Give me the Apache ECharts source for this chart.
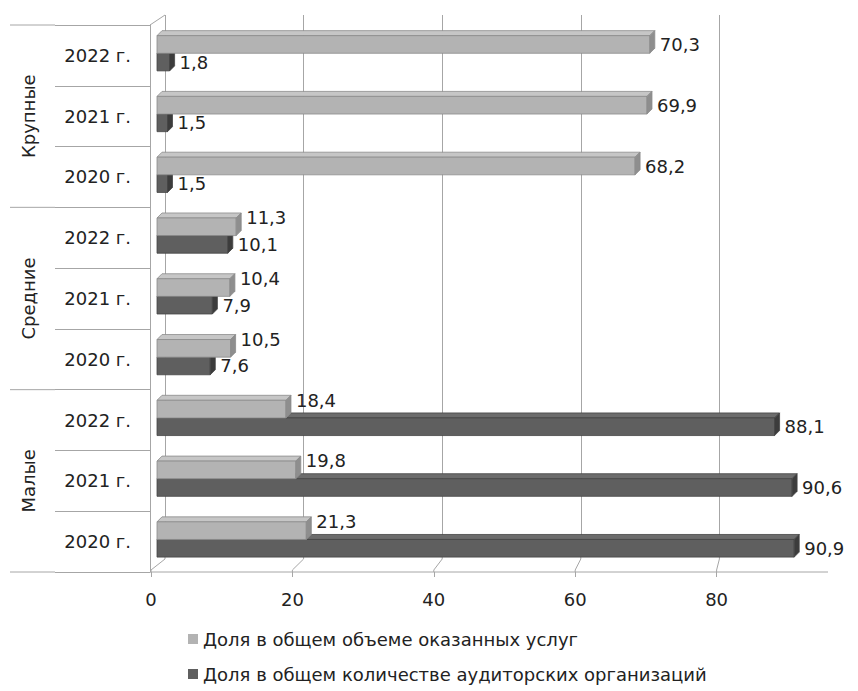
<!DOCTYPE html>
<html>
<head>
<meta charset="utf-8">
<script src="https://cdn.jsdelivr.net/npm/echarts@6/dist/echarts.min.js"></script>
<style>
  html, body { margin: 0; padding: 0; background: #fff; }
  #chart { width: 858px; height: 691px; }
</style>
</head>
<body>
<div id="chart"></div>
<script>
// Firm size groups and reporting years (top to bottom)
const groups = ['Крупные', 'Средние', 'Малые'];
const years = ['2022 г.', '2021 г.', '2020 г.'];

// Shares, %, in row order: Крупные 2022..2020, Средние 2022..2020, Малые 2022..2020
const serviceShare = [70.3, 69.9, 68.2, 11.3, 10.4, 10.5, 18.4, 19.8, 21.3];
const firmShare = [1.8, 1.5, 1.5, 10.1, 7.9, 7.6, 88.1, 90.6, 90.9];

const seriesNames = [
  'Доля в общем объеме оказанных услуг',
  'Доля в общем количестве аудиторских организаций'
];

// Value axis range
const axisMin = 0;
const axisMax = 100;
const axisStep = 20;

const rows = groups.flatMap(() => years);

const FONT = '"DejaVu Sans", Verdana, sans-serif';
const TEXT = '#222';
const LINE = '#a6a6a6';

const palettes = [
  { front: '#b3b3b3', top: '#c6c6c6', side: '#8e8e8e', edge: '#8c8c8c' },
  { front: '#5f5f5f', top: '#6c6c6c', side: '#3c3c3c', edge: '#454545' }
];

const fmt = v => v.toFixed(1).replace('.', ',');

// Box-like bar: front face, top face and right side face with a value label
function makeRenderer(k) {
  const pal = palettes[k];
  return function (params, api) {
    const v = api.value(0);
    const i = api.value(1);
    const p0 = api.coord([0, i]);
    const p1 = api.coord([v, i]);
    const band = api.size([0, 1])[1];
    const h = band * 0.29;
    const d = 5;
    const mid = p0[1] - band * 0.035;
    const y0 = k === 0 ? mid - h : mid;
    const y1 = y0 + h;
    const x0 = p0[0];
    const x1 = p1[0];
    let labelDy = 0;
    if (k === 0 && firmShare[i] > serviceShare[i] - 5) labelDy = -9;
    return {
      type: 'group',
      children: [
        {
          type: 'polygon',
          shape: { points: [[x0, y0], [x1, y0], [x1 + d, y0 - d], [x0 + d, y0 - d]] },
          style: { fill: pal.top, stroke: pal.edge, lineWidth: 0.8 }
        },
        {
          type: 'rect',
          shape: { x: x0, y: y0, width: x1 - x0, height: h },
          style: { fill: pal.front, stroke: pal.edge, lineWidth: 0.8 }
        },
        {
          type: 'polygon',
          shape: { points: [[x1, y0], [x1 + d, y0 - d], [x1 + d, y1 - d], [x1, y1]] },
          style: { fill: pal.side, stroke: pal.edge, lineWidth: 0.8 }
        },
        {
          type: 'text',
          style: {
            text: fmt(v),
            x: x1 + d + 5,
            y: (y0 + y1) / 2 + labelDy,
            align: 'left',
            verticalAlign: 'middle',
            font: '18px ' + FONT,
            fill: TEXT
          }
        }
      ]
    };
  };
}

const chart = echarts.init(document.getElementById('chart'), null, { renderer: 'svg' });

const hiddenValueAxis = (grid) => ({
  type: 'value', gridIndex: grid, min: axisMin, max: axisMax, interval: axisStep, show: false,
  axisLine: { show: false }, axisTick: { show: false }, axisLabel: { show: false },
  splitLine: { show: false }
});

const option = {
  backgroundColor: '#fff',
  animation: false,
  textStyle: { fontFamily: FONT },
  grid: [
    { left: 165, top: 15, width: 713, height: 540 },   // back wall
    { left: 151, top: 25, width: 713, height: 547 },   // front value axis
    { left: 157, top: 25, width: 713, height: 547 },   // bars
    { left: 55, top: 25, width: 95, height: 547 }      // year column
  ],
  xAxis: [
    {
      type: 'value', gridIndex: 0, min: axisMin, max: axisMax, interval: axisStep,
      axisLine: { show: false }, axisTick: { show: false }, axisLabel: { show: false },
      splitLine: { show: true, lineStyle: { color: LINE, width: 1 } }
    },
    {
      type: 'value', gridIndex: 1, min: axisMin, max: axisMax, interval: axisStep,
      axisLine: { show: false },
      axisTick: { show: true, length: 5, lineStyle: { color: LINE } },
      axisLabel: { show: true, fontSize: 18, color: TEXT, fontFamily: FONT, margin: 18, showMaxLabel: false },
      splitLine: { show: false }
    },
    hiddenValueAxis(2),
    hiddenValueAxis(3)
  ],
  yAxis: [
    { type: 'category', gridIndex: 0, data: rows, inverse: true, show: false },
    { type: 'category', gridIndex: 1, data: rows, inverse: true, show: false },
    { type: 'category', gridIndex: 2, data: rows, inverse: true, show: false },
    {
      type: 'category', gridIndex: 3, data: rows, inverse: true, position: 'right',
      axisLine: { show: true, onZero: false, lineStyle: { color: LINE } },
      axisTick: { show: false },
      axisLabel: { inside: true, margin: 19, fontSize: 18, color: TEXT, fontFamily: FONT },
      splitLine: { show: true, lineStyle: { color: LINE } }
    }
  ],
  legend: {
    orient: 'vertical',
    left: 183,
    top: 625,
    itemWidth: 10,
    itemHeight: 10,
    itemGap: 17,
    icon: 'rect',
    data: seriesNames,
    textStyle: { fontSize: 18, color: TEXT, fontFamily: FONT }
  },
  series: [
    {
      type: 'custom', name: seriesNames[0], xAxisIndex: 2, yAxisIndex: 2, z: 3,
      itemStyle: { color: palettes[0].front },
      data: serviceShare.map((v, i) => [v, i]),
      encode: { x: 0, y: 1 },
      renderItem: makeRenderer(0)
    },
    {
      type: 'custom', name: seriesNames[1], xAxisIndex: 2, yAxisIndex: 2, z: 2,
      itemStyle: { color: palettes[1].front },
      data: firmShare.map((v, i) => [v, i]),
      encode: { x: 0, y: 1 },
      renderItem: makeRenderer(1)
    }
  ]
};

chart.setOption(option);

// Group column, table rules, floor edge and wall-to-floor connectors, placed from the axis scales
const rowBand = 547 / rows.length;
const rowCenter = i => chart.convertToPixel({ yAxisIndex: 3 }, i);
const rowTop = i => rowCenter(i) - rowBand / 2;
const floorY = rowTop(rows.length - 1) + rowBand;
const backBottom = 15 + 540;
const decor = [];

groups.forEach((name, g) => {
  const first = g * years.length;
  const last = first + years.length - 1;
  decor.push({
    type: 'text', silent: true,
    x: 28,
    y: (rowCenter(first) + rowCenter(last)) / 2,
    rotation: Math.PI / 2,
    style: {
      text: name, align: 'center', verticalAlign: 'middle',
      font: '18px ' + FONT, fill: TEXT
    }
  });
});

// group separators across the left-hand column
for (let g = 0; g <= groups.length; g++) {
  const y = g < groups.length ? rowTop(g * years.length) : floorY;
  decor.push({
    type: 'line', silent: true,
    shape: { x1: 10, y1: y, x2: 55, y2: y },
    style: { stroke: LINE, lineWidth: 1 }
  });
}

const frontLeft = chart.convertToPixel({ xAxisIndex: 1 }, axisMin);
decor.push({
  type: 'line', silent: true,
  shape: { x1: frontLeft - 1, y1: floorY, x2: 828, y2: floorY },
  style: { stroke: LINE, lineWidth: 1 }
});
for (let t = axisMin; t < axisMax; t += axisStep) {
  const xb = chart.convertToPixel({ xAxisIndex: 0 }, t);
  const xf = chart.convertToPixel({ xAxisIndex: 1 }, t);
  decor.push({
    type: 'polyline', silent: true,
    shape: { points: [[xb, backBottom], [xb, backBottom + 4], [xf, floorY - 2], [xf, floorY]] },
    style: { stroke: LINE, lineWidth: 1, fill: null }
  });
}
const backLeft = chart.convertToPixel({ xAxisIndex: 0 }, axisMin);
decor.push({
  type: 'line', silent: true,
  shape: { x1: 150, y1: 25, x2: backLeft, y2: 15 },
  style: { stroke: LINE, lineWidth: 1 }
});
chart.setOption({ graphic: { elements: decor } });
</script>
</body>
</html>
